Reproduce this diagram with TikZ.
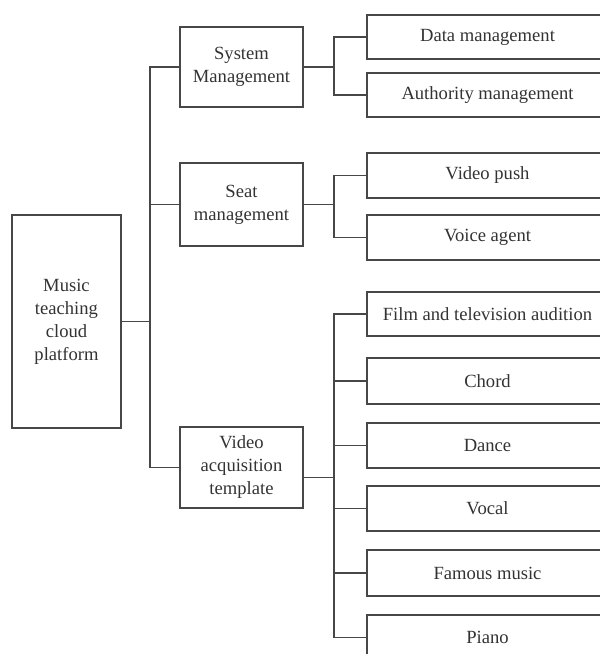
\documentclass[tikz,border=0pt]{standalone}
\usepackage{fontspec}
\setmainfont{Liberation Serif}
\begin{document}
\begin{tikzpicture}[x=1pt,y=-1pt,
  box/.style={draw=black!72, line width=1.3pt, inner sep=0pt, align=center,
    text=black!80, font=\fontsize{18.6}{23}\selectfont},
  link/.style={draw=black!72, line width=1.3pt}]
\useasboundingbox (0,0) rectangle (600,654);
\clip (0,0) rectangle (600,654);
\coordinate (t) at (150,0);
\coordinate (s) at (334,0);
% root
\node[box, minimum width=109pt, minimum height=213pt] (root) at (66.5,321.5) {Music\\teaching\\cloud\\platform};
% level 1
\node[box, minimum width=123pt, minimum height=80pt] (sys) at (241.5,67) {System\\Management};
\node[box, minimum width=123pt, minimum height=83pt] (seat) at (241.5,204.5) {Seat\\management};
\node[box, minimum width=123pt, minimum height=81pt] (video) at (241.5,467.5) {Video\\acquisition\\template};
% leaves
\node[box, minimum width=241pt, minimum height=44pt] (data) at (487.5,37) {Data management};
\node[box, minimum width=241pt, minimum height=44pt] (auth) at (487.5,95) {Authority management};
\node[box, minimum width=241pt, minimum height=45pt] (push) at (487.5,175.5) {Video push};
\node[box, minimum width=241pt, minimum height=45pt] (voice) at (487.5,237.5) {Voice agent};
\node[box, minimum width=241pt, minimum height=44pt] (film) at (487.5,314) {Film and television audition};
\node[box, minimum width=241pt, minimum height=46pt] (chord) at (487.5,381) {Chord};
\node[box, minimum width=241pt, minimum height=45pt] (dance) at (487.5,445.5) {Dance};
\node[box, minimum width=241pt, minimum height=45pt] (vocal) at (487.5,508.5) {Vocal};
\node[box, minimum width=241pt, minimum height=46pt] (famous) at (487.5,573) {Famous music};
\node[box, minimum width=241pt, minimum height=45pt] (piano) at (487.5,637.5) {Piano};
% level-1 trunk
\draw[link] (sys.west) -- (sys.west -| t) -- (video.west -| t) -- (video.west);
\draw[link] (seat.west) -- (seat.west -| t);
\draw[link] (root.east) -- (root.east -| t);
% system branch
\draw[link] (sys.east) -- (sys.east -| s);
\draw[link] (data.west) -- (data.west -| s) -- (auth.west -| s) -- (auth.west);
% seat branch
\draw[link] (seat.east) -- (seat.east -| s);
\draw[link] (push.west) -- (push.west -| s) -- (voice.west -| s) -- (voice.west);
% video branch
\coordinate (vout) at ([yshift=-10pt]video.east);
\draw[link] (vout) -- (vout -| s);
\draw[link] (film.west) -- (film.west -| s) -- (piano.west -| s) -- (piano.west);
\draw[link] (chord.west) -- (chord.west -| s);
\draw[link] (dance.west) -- (dance.west -| s);
\draw[link] (vocal.west) -- (vocal.west -| s);
\draw[link] (famous.west) -- (famous.west -| s);
\end{tikzpicture}
\end{document}
